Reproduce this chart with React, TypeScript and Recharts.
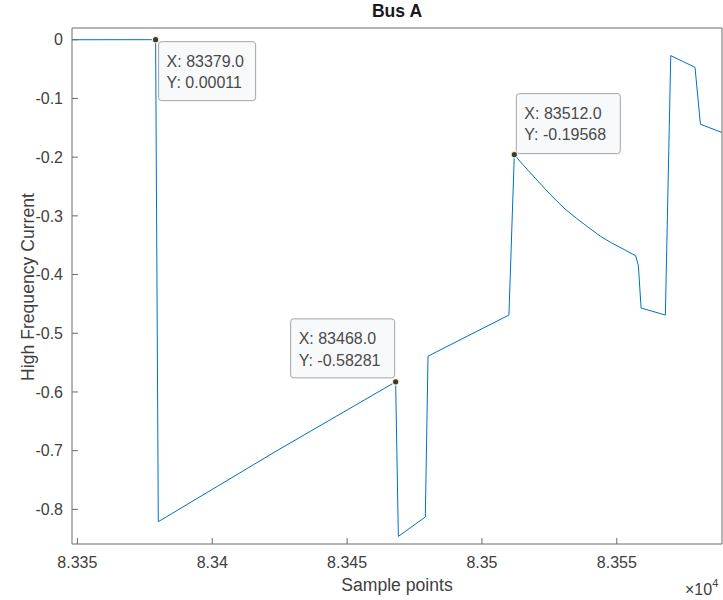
import { LineChart, Line, XAxis, YAxis, ReferenceDot } from "recharts";

const FONT = '"Liberation Sans", Arial, Helvetica, sans-serif';
const BLUE = "#0072BD";
const AXIS = "#6a6a6a";
const TEXT = "#404040";

// samples
const sampleX = [
  83348, 83379, 83380, 83424, 83468, 83469, 83479, 83480, 83510, 83512,
  83515, 83518, 83522, 83525, 83528, 83531, 83535, 83539, 83544, 83548,
  83553, 83557, 83558, 83559, 83568, 83570, 83579, 83581, 83589,
];
const current = [
  0, 0.00011, -0.821, -0.7, -0.58281, -0.846, -0.813, -0.539, -0.469, -0.19568,
  -0.212, -0.227, -0.247, -0.262, -0.276, -0.289, -0.304, -0.318, -0.335, -0.346,
  -0.358, -0.368, -0.385, -0.457, -0.469, -0.027, -0.047, -0.144, -0.158,
];

const xTicks = [83350, 83400, 83450, 83500, 83550];
const xTickLabels = ["8.335", "8.34", "8.345", "8.35", "8.355"];
const yTicks = [-0.8, -0.7, -0.6, -0.5, -0.4, -0.3, -0.2, -0.1, 0];
const yTickLabels = ["-0.8", "-0.7", "-0.6", "-0.5", "-0.4", "-0.3", "-0.2", "-0.1", "0"];

// data tips
const tipX = [83379, 83468, 83512];
const tipY = [0.00011, -0.58281, -0.19568];

// box placement of each tip relative to its marker
const tipBox = [
  { dx: 3, dy: 2, w: 97, h: 59 },
  { dx: -105, dy: -63, w: 104, h: 59 },
  { dx: 2, dy: -61, w: 104, h: 60 },
];

const data = sampleX.map((x, i) => ({ x, y: current[i] }));

function DataTip({ cx, cy, i }: { cx: number; cy: number; i: number }) {
  const b = tipBox[i];
  const bx = cx + b.dx;
  const by = cy + b.dy;
  return (
    <g>
      <rect x={bx} y={by} width={b.w} height={b.h} rx={3} fill="#f8f9fb" stroke="#a5a5a5" strokeWidth={1} />
      <text x={bx + 8} y={by + 25.5} fontSize={16} fontFamily={FONT} fill="#4a4a4a">
        {"X: " + tipX[i].toFixed(1)}
      </text>
      <text x={bx + 8} y={by + 46.7} fontSize={16} fontFamily={FONT} fill="#4a4a4a">
        {"Y: " + tipY[i].toFixed(5)}
      </text>
      <circle cx={cx} cy={cy} r={3.2} fill="#3a3a3a" stroke="#f6f0c2" strokeWidth={1.2} />
    </g>
  );
}

export default function App() {
  return (
    <div style={{ position: "absolute", left: 0, top: 0, width: 723, height: 600, background: "#fff" }}>
      <LineChart width={723} height={600} data={data} margin={{ top: 27, right: 0, bottom: 26, left: 0 }}>
        <XAxis
          dataKey="x"
          type="number"
          domain={[83348, 83589]}
          allowDataOverflow
          ticks={xTicks}
          tickFormatter={(v: number) => xTickLabels[xTicks.indexOf(v)]}
          tickSize={-6}
          tickMargin={19}
          height={30}
          stroke={AXIS}
          tick={{ fill: TEXT, fontSize: 16, fontFamily: FONT }}
        />
        <XAxis
          xAxisId="top"
          orientation="top"
          type="number"
          domain={[83348, 83589]}
          allowDataOverflow
          ticks={xTicks}
          tickSize={-6}
          tick={false}
          height={1}
          stroke={AXIS}
        />
        <YAxis
          type="number"
          domain={[-0.859, 0.02]}
          allowDataOverflow
          ticks={yTicks}
          tickFormatter={(v: number) => yTickLabels[yTicks.indexOf(v)]}
          tickSize={-6}
          tickMargin={15}
          width={72}
          stroke={AXIS}
          tick={{ fill: TEXT, fontSize: 16, fontFamily: FONT }}
        />
        <YAxis
          yAxisId="right"
          orientation="right"
          type="number"
          domain={[-0.859, 0.02]}
          allowDataOverflow
          ticks={yTicks}
          tickSize={-6}
          tick={false}
          width={1}
          stroke={AXIS}
        />
        <Line
          dataKey="y"
          type="linear"
          stroke={BLUE}
          strokeWidth={1}
          dot={false}
          isAnimationActive={false}
        />
        {tipX.map((tx, i) => (
          <ReferenceDot
            key={i}
            x={tx}
            y={tipY[i]}
            r={3}
            ifOverflow="visible"
            shape={(p: any) => <DataTip cx={p.cx} cy={p.cy} i={i} />}
          />
        ))}
      </LineChart>
      <svg
        width={723}
        height={600}
        style={{ position: "absolute", left: 0, top: 0, pointerEvents: "none" }}
      >
        <text x={397} y={17} textAnchor="middle" fontSize={17.6} fontWeight="bold" fontFamily={FONT} fill="#1a1a1a">
          Bus A
        </text>
        <text x={397} y={591} textAnchor="middle" fontSize={17.6} fontFamily={FONT} fill={TEXT}>
          Sample points
        </text>
        <text
          x={34}
          y={287}
          transform="rotate(-90 34 287)"
          textAnchor="middle"
          fontSize={17.6}
          fontFamily={FONT}
          fill={TEXT}
        >
          High Frequency Current
        </text>
        <text x={685} y={595} fontSize={16} fontFamily={FONT} fill={TEXT}>
          ×10
          <tspan fontSize={11} dy={-8}>4</tspan>
        </text>
      </svg>
    </div>
  );
}
